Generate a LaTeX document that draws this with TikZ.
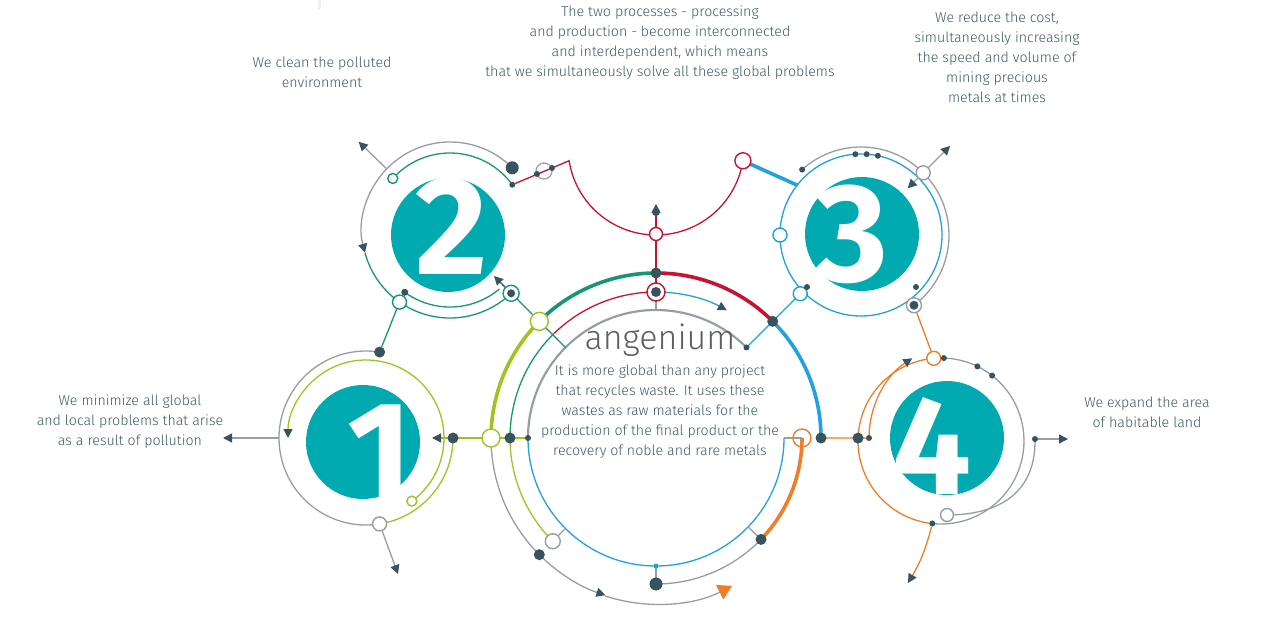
\documentclass[tikz,border=0pt]{standalone}
\usepackage{fontspec}
\setmainfont{Fira Sans Light}
\newfontfamily\digitfont{Fira Sans}
\usetikzlibrary{arrows.meta,calc}
\definecolor{tealdisk}{RGB}{0,170,176}
\definecolor{ngreen}{RGB}{24,150,112}
\definecolor{nlime}{RGB}{158,196,32}
\definecolor{nred}{RGB}{200,18,48}
\definecolor{nblue}{RGB}{32,162,220}
\definecolor{norange}{RGB}{240,125,40}
\definecolor{ngray}{RGB}{150,158,164}
\definecolor{slate}{RGB}{56,82,94}
\definecolor{ink}{RGB}{64,90,98}
\definecolor{titlegray}{RGB}{95,95,95}
\tikzset{
    >={Triangle[length=9pt,width=9pt,color=slate]},
    thinln/.style={line width=1.3pt},
    thickln/.style={line width=3.6pt},
    bigdot/.style={circle,fill=slate,inner sep=0pt,minimum size=11pt},
    smalldot/.style={circle,fill=slate,inner sep=0pt,minimum size=6pt},
    hollow/.style={circle,draw=#1,fill=white,line width=1.4pt,inner sep=0pt,minimum size=14pt},
    disk/.style={circle,fill=tealdisk,inner sep=0pt,minimum size=114pt},
    digit/.style={text=white,inner sep=0pt,font=\digitfont\bfseries\fontsize{140}{140}\selectfont},
    txt/.style={text=ink,align=center,font=\fontsize{14.2}{20}\selectfont}
}
\begin{document}
\begin{tikzpicture}[x=1pt,y=-1pt]
    \useasboundingbox (0,0) rectangle (1283,631);
    \fill[black!6] (318,0) rectangle (321,9);

    % centres
    \coordinate (c0) at (656,438);
    \coordinate (c1) at (366,438);
    \coordinate (c2) at (450,230);
    \coordinate (c3) at (861,235);
    \coordinate (c4) at (941,441);
    \coordinate (cr) at (656,147);

    % number disks
    \node[disk] (k1) at (363,442) {};
    \node[digit] (n1) at (380,452) {1};
    \node[disk] (k2) at (448,235) {};
    \node[digit] (n2) at (452,226) {2};
    \node[disk] (k3) at (862,234) {};
    \node[digit] (n3) at (852,234) {3};
    \node[disk] (k4) at (947,438) {};
    \node[digit] (n4) at (932,446) {4};

    % circle 1
    \draw[ngray,thinln] ($(c1)+(81:87)$) arc[start angle=81,end angle=279,radius=87];
    \draw[nlime,thinln] ($(c1)+(0:87)$) arc[start angle=0,end angle=81,radius=87];
    \draw[nlime,thinln,->] ($(c1)+(54:78)$) arc[start angle=54,end angle=-180,radius=78];
    \coordinate (w1) at ($(c1)+(180:87)$);
    \coordinate (wa) at (223,438);
    \coordinate (sa) at (398,574);
    \draw[ngray,thinln,->] (w1) -- (wa);

    % centre rings
    \draw[ngray,line width=2.2pt] ($(c0)+(180:128)$) arc[start angle=180,end angle=315,radius=128];
    \draw[nblue,thinln] ($(c0)+(0:128)$) arc[start angle=0,end angle=180,radius=128];
    \draw[nlime,thickln] ($(c0)+(180:165)$) arc[start angle=180,end angle=225,radius=165];
    \draw[ngreen,thickln] ($(c0)+(225:165)$) arc[start angle=225,end angle=270,radius=165];
    \draw[nred,thickln] ($(c0)+(270:165)$) arc[start angle=270,end angle=315,radius=165];
    \draw[nblue,thickln] ($(c0)+(315:165)$) arc[start angle=315,end angle=360,radius=165];
    \draw[ngray,thinln] ($(c0)+(180:165)$) arc[start angle=180,end angle=135,radius=165];
    \draw[ngray,thinln,->] ($(c0)+(135:165)$) arc[start angle=135,end angle=108,radius=166];
    \draw[ngray,thinln,-{Triangle[length=14pt,width=16pt,color=norange]}] ($(c0)+(108:166)$) arc[start angle=108,end angle=63,radius=167];
    \draw[ngreen,thinln] ($(c0)+(180:146)$) arc[start angle=180,end angle=226,radius=146];
    \draw[nlime,thinln] ($(c0)+(135:146)$) arc[start angle=135,end angle=180,radius=146];
    \draw[nred,thinln] ($(c0)+(226:146)$) arc[start angle=226,end angle=270,radius=146];
    \draw[nblue,thinln,->] ($(c0)+(270:146)$) arc[start angle=270,end angle=299,radius=146];
    \draw[ngray,thinln] ($(c0)+(44:146)$) arc[start angle=44,end angle=90,radius=146];
    \draw[norange,thickln] ($(c0)+(0:146)$) arc[start angle=0,end angle=44,radius=146];

    % spokes
    \draw[ngreen,thinln] ($(c0)+(225:128)$) -- ($(c0)+(225:204)$);
    \draw[ngray,thinln] ($(c0)+(270:128)$) -- ($(c0)+(270:146)$);
    \draw[nred,thinln] ($(c0)+(270:146)$) -- ($(c0)+(270:204)$);
    \draw[nred,thinln,->] ($(c0)+(270:204)$) -- ($(c0)+(270:234)$);
    \draw[nblue,thinln] ($(c0)+(315:128)$) -- ($(c0)+(315:204)$);
    \draw[ngray,thinln] ($(c0)+(44:128)$) -- ($(c0)+(44:146)$);
    \draw[ngray,thinln] ($(c0)+(90:128)$) -- ($(c0)+(90:146)$);
    \draw[ngray,thinln] ($(c0)+(135:128)$) -- ($(c0)+(135:146)$);
    \draw[ngray,thinln] ($(c0)+(0:128)$) -- ($(c0)+(0:146)$);
    \draw[nlime,thinln,->] ($(c0)+(180:128)$) -- ($(c1)+(0:66)$);
    \draw[norange,thinln] ($(c0)+(0:165)$) -- ($(c4)+(182:83)$) -- (869,438);

    % circle 2
    \draw[ngray,thinln,->] ($(c2)+(315:88)$) arc[start angle=315,end angle=165,radius=88];
    \draw[ngreen,thinln] ($(c2)+(165:88)$) arc[start angle=165,end angle=46,radius=88];
    \draw[ngreen,thinln] ($(c2)+(222:77)$) arc[start angle=222,end angle=324,radius=77];
    \draw[ngreen,thinln] ($(c2)+(50:77)$) arc[start angle=50,end angle=126,radius=77];
    \draw[ngray,thinln,->] ($(c2)+(224:88)$) -- ($(c2)+(224:127)$);
    \node[smalldot] (r2) at ($(c2)+(324:77)$) {};
    \draw[nred,thinln] (r2) -- ($(cr)+(171:88)$) arc[start angle=171,end angle=9,radius=88];

    % circle 3
    \draw[nblue,thinln] (c3) circle[radius=81];
    \draw[ngray,thinln] ($(c3)+(228:88)$) arc[start angle=228,end angle=413,radius=88];
    \draw[ngray,thinln,<->] ($(c3)+(315:66)$) -- ($(c3)+(315:126)$);
    \draw[nblue,thickln] ($(cr)+(9:88)$) -- ($(c3)+(218:81)$);

    % circle 4
    \draw[norange,thinln] ($(c4)+(96:83)$) arc[start angle=96,end angle=266,radius=83];
    \draw[ngray,thinln] ($(c4)+(-94:83)$) arc[start angle=-94,end angle=96,radius=83];
    \draw[norange,thinln,->] (869,438) arc[start angle=180,end angle=237,radius=95];
    \coordinate (e4) at (1035,439);
    \coordinate (ea) at (1068,439);
    \coordinate (fa) at (908,583);
    \draw[ngray,thinln] (e4) .. controls (1036,492) and (1000,515) .. (947,515);
    \draw[ngray,thinln,->] (e4) -- (ea);

    % dots and open circles
    \node[bigdot] (t1) at ($(c1)+(279:87)$) {};
    \node[hollow=ngray] (b1) at ($(c1)+(81:87)$) {};
    \node[hollow=nlime,minimum size=10pt] (s1) at ($(c1)+(54:78)$) {};
    \node[bigdot] (m1) at ($(c1)+(0:87)$) {};
    \draw[ngray,thinln,->] (b1) -- (sa);

    \node[hollow=nlime,minimum size=18pt] (g0) at ($(c0)+(180:165)$) {};
    \node[hollow=nlime,minimum size=18pt] (g1) at ($(c0)+(225:165)$) {};
    \node[bigdot] (g2) at ($(c0)+(180:146)$) {};
    \node[smalldot] (g3) at ($(c0)+(180:128)$) {};
    \node[bigdot] (a0) at ($(c0)+(270:165)$) {};
    \node[bigdot] (a1) at ($(c0)+(315:165)$) {};
    \node[bigdot] (a2) at ($(c0)+(0:165)$) {};
    \node[hollow=nred,minimum size=18pt] (a3) at ($(c0)+(270:146)$) {};
    \node[bigdot,minimum size=10pt] at (a3) {};
    \node[hollow=nred,minimum size=13pt] (a4) at ($(c0)+(270:204)$) {};
    \node[smalldot,minimum size=8pt] (a5) at ($(c0)+(270:226)$) {};
    \node[smalldot] (a6) at ($(c0)+(315:128)$) {};
    \node[hollow=norange,fill=none,minimum size=18pt] (o0) at ($(c0)+(0:146)$) {};
    \node[bigdot] (o1) at ($(c0)+(44:146)$) {};
    \node[bigdot,minimum size=13pt] (o2) at ($(c0)+(90:146)$) {};
    \node[circle,fill=nblue,inner sep=0pt,minimum size=5pt] (o3) at ($(c0)+(90:128)$) {};
    \node[hollow=ngray,minimum size=15pt] (o4) at ($(c0)+(135:146)$) {};
    \node[bigdot] (o5) at ($(c0)+(135:165)$) {};

    \node[bigdot,minimum size=13pt] (d2) at ($(c2)+(315:88)$) {};
    \node[hollow=ngreen,minimum size=10pt] (p2) at ($(c2)+(222:77)$) {};
    \node[smalldot,minimum size=7pt] (u2) at ($(c2)+(126:77)$) {};
    \node[hollow=ngreen] (h2) at ($(c2)+(125:88)$) {};
    \node[hollow=ngreen,minimum size=16pt] (q2) at ($(c2)+(46:88)$) {};
    \node[bigdot,minimum size=8pt] at (q2) {};
    \coordinate (qa) at (494,276);
    \draw[slate,thinln,->] (q2) -- (qa);
    \draw[ngreen,thinln] (t1) -- (h2);
    \node[circle,draw=ngray,line width=1.2pt,inner sep=0pt,minimum size=16pt] (x2) at (544,171) {};
    \node[smalldot] at (537,174) {};
    \node[smalldot] at (552,168) {};
    \node[hollow=nred,minimum size=16pt] (v2) at ($(cr)+(9:88)$) {};

    \node[smalldot] (d3) at ($(c3)+(228:88)$) {};
    \foreach \a in {266,274,282}
        \node[smalldot] at ($(c3)+(\a:81)$) {};
    \node[hollow=ngray] (x3) at ($(c3)+(315:88)$) {};
    \node[hollow=nblue] (l3) at ($(c3)+(180:81)$) {};
    \node[hollow=nblue] (w3) at ($(c0)+(315:204)$) {};
    \node[hollow=ngray,minimum size=15pt] (y3) at ($(c3)+(53:88)$) {};
    \node[bigdot,minimum size=9pt] at (y3) {};
    \node[smalldot] at (807,287) {};
    \node[smalldot] at (916,287) {};

    \node[hollow=norange] (z4) at ($(c4)+(265:83)$) {};
    \draw[norange,thinln] (y3) -- (z4);
    \node[smalldot] at ($(c4)+(272:83)$) {};
    \node[smalldot] at ($(c4)+(296:83)$) {};
    \node[smalldot] at ($(c4)+(308:83)$) {};
    \node[bigdot] (m4) at ($(c4)+(182:83)$) {};
    \node[smalldot] at (869,438) {};
    \node[smalldot] (bd4) at ($(c4)+(96:83)$) {};
    \node[smalldot] at (e4) {};
    \node[hollow=ngray,minimum size=13pt] (f4) at (947,515) {};
    \draw[norange,thinln,->] (bd4) to[bend left=8] (fa);

    % texts
    \node[txt] (tx1) at (130,422) {We minimize all global\\and local problems that arise\\as a result of pollution};
    \node[txt] (tx2) at (322,72) {We clean the polluted\\environment};
    \node[txt] (tx0) at (660,43) {The two processes - processing\\and production - become interconnected\\and interdependent, which means\\that we simultaneously solve all these global problems};
    \node[txt] (tx3) at (997,57) {We reduce the cost,\\simultaneously increasing\\the speed and volume of\\mining precious\\metals at times};
    \node[txt] (tx4) at (1147,412) {We expand the area\\of habitable land};
    \node[text=titlegray,font=\fontsize{34}{34}\selectfont] (ttl) at (660,340) {angenium};
    \node[txt] (body) at (660,412) {It is more global than any project\\that recycles waste. It uses these\\wastes as raw materials for the\\production of the final product or the\\recovery of noble and rare metals};
\end{tikzpicture}
\end{document}
